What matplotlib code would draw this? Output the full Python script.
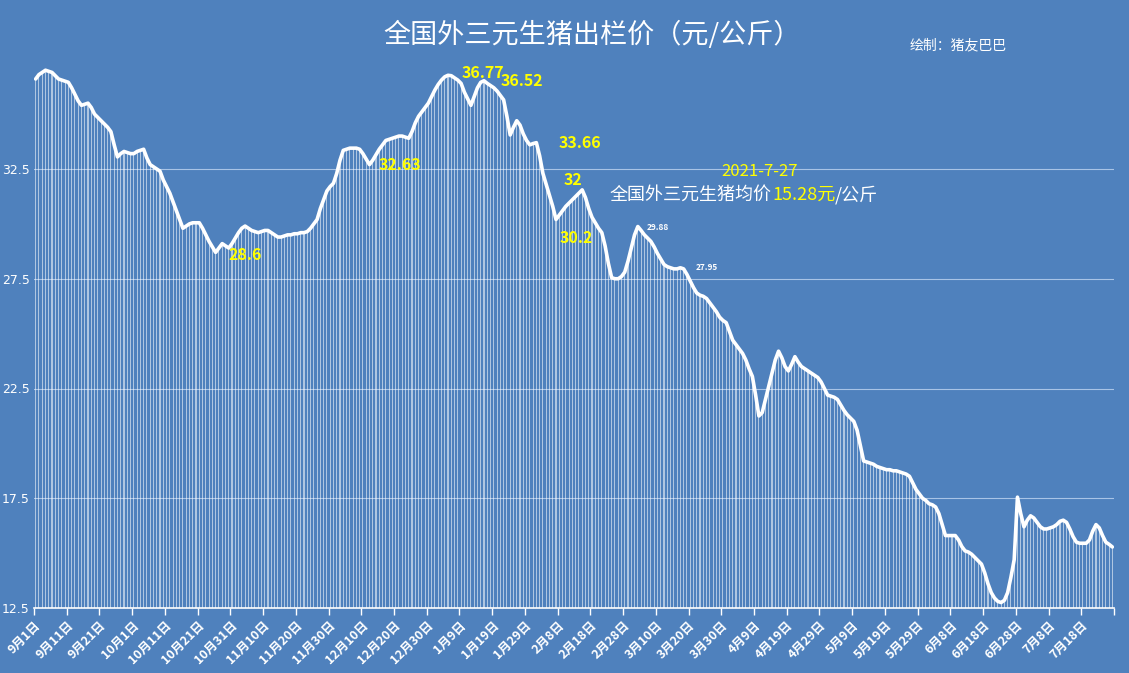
import matplotlib
matplotlib.use("Agg")
import matplotlib.pyplot as plt
import numpy as np

plt.rcParams['font.family'] = ['Noto Sans CJK SC', 'DejaVu Sans']

prices = [
36.6,36.8,36.9,37.0,36.95,36.9,36.75,36.6,36.55,36.5,
36.45,36.2,35.9,35.6,35.4,35.45,35.5,35.3,35.0,34.85,
34.7,34.55,34.4,34.2,33.6,33.05,33.2,33.3,33.25,33.2,
33.2,33.3,33.35,33.4,33.0,32.7,32.6,32.5,32.4,32.0,
31.7,31.4,31.0,30.6,30.2,29.8,29.9,30.0,30.05,30.05,
30.05,29.8,29.5,29.2,28.95,28.7,28.9,29.1,29.0,28.9,
29.1,29.35,29.6,29.8,29.9,29.8,29.7,29.65,29.6,29.65,
29.7,29.7,29.6,29.5,29.4,29.4,29.45,29.5,29.5,29.55,
29.55,29.6,29.6,29.65,29.8,30.0,30.2,30.7,31.1,31.5,
31.7,31.85,32.3,32.9,33.35,33.4,33.45,33.45,33.45,33.4,
33.2,32.95,32.7,32.9,33.15,33.4,33.6,33.8,33.85,33.9,
33.95,34.0,34.0,33.95,33.9,34.2,34.6,34.9,35.1,35.3,
35.5,35.8,36.1,36.35,36.55,36.7,36.77,36.75,36.65,36.55,
36.4,36.0,35.7,35.4,35.8,36.2,36.45,36.52,36.4,36.3,
36.2,36.05,35.85,35.65,34.9,34.05,34.4,34.7,34.5,34.1,
33.8,33.6,33.66,33.7,33.1,32.3,31.8,31.3,30.8,30.2,
30.4,30.6,30.8,30.95,31.1,31.25,31.4,31.55,31.2,30.7,
30.3,30.05,29.8,29.6,29.0,28.2,27.55,27.5,27.5,27.6,
27.8,28.3,28.9,29.5,29.88,29.7,29.5,29.35,29.2,28.95,
28.65,28.4,28.15,28.05,28.0,27.95,27.95,28.0,27.95,27.7,
27.4,27.1,26.85,26.75,26.7,26.6,26.4,26.2,26.0,25.75,
25.6,25.5,25.1,24.7,24.5,24.3,24.1,23.8,23.4,23.05,
22.2,21.25,21.4,22.0,22.6,23.2,23.8,24.2,23.9,23.5,
23.3,23.6,23.95,23.7,23.5,23.4,23.3,23.2,23.1,23.0,
22.8,22.5,22.2,22.15,22.1,22.0,21.75,21.5,21.3,21.15,
21.0,20.6,19.9,19.2,19.15,19.1,19.05,18.95,18.9,18.85,
18.8,18.8,18.75,18.75,18.7,18.65,18.6,18.5,18.2,17.9,
17.7,17.5,17.4,17.25,17.2,17.1,16.8,16.3,15.8,15.8,
15.8,15.8,15.6,15.3,15.1,15.05,14.95,14.8,14.65,14.5,
14.1,13.6,13.2,12.95,12.8,12.75,12.85,13.2,13.9,14.7,
17.55,16.8,16.2,16.5,16.7,16.6,16.4,16.2,16.1,16.1,
16.15,16.2,16.3,16.45,16.5,16.4,16.1,15.75,15.5,15.45,
15.45,15.45,15.6,16.0,16.3,16.15,15.8,15.5,15.4,15.28,
]

tick_labels = ["9月1日","9月11日","9月21日","10月1日","10月11日","10月21日","10月31日",
"11月10日","11月20日","11月30日","12月10日","12月20日","12月30日","1月9日","1月19日",
"1月29日","2月8日","2月18日","2月28日","3月10日","3月20日","3月30日","4月9日","4月19日",
"4月29日","5月9日","5月19日","5月29日","6月8日","6月18日","6月28日","7月8日","7月18日"]

yticks = [12.5, 17.5, 22.5, 27.5, 32.5]

BG = '#4f81bd'
W, H = 1129, 673
fig = plt.figure(figsize=(W/100, H/100), dpi=100, facecolor=BG)
ax = fig.add_axes([34/W, 1-608/H, (1114-34)/W, 608/H])
ax.set_facecolor(BG)

x = np.arange(len(prices))
ylo = 12.5
ax.bar(x, np.array(prices) - ylo, bottom=ylo, width=0.35, color='white', alpha=0.55, linewidth=0, zorder=2)
ax.plot(x, prices, color='white', lw=2.6, zorder=3, solid_capstyle='round')

ax.set_xlim(-0.5, len(prices) - 0.5)
ax.set_ylim(12.5, 12.5 + 608/21.95)
ax.set_yticks(yticks)
ax.set_yticklabels([str(v) for v in yticks], color='white', fontsize=9, family=['DejaVu Sans'])
ax.tick_params(axis='y', length=0, pad=3)
for v in yticks[1:]:
    ax.axhline(v, color='#a9c4e6', lw=0.8, zorder=1)

ticks = np.arange(0, len(prices) + 1, 10) - 0.5
ax.set_xticks(ticks)
ax.set_xticklabels(tick_labels + [""] * (len(ticks) - len(tick_labels)), rotation=45,
                   ha='right', rotation_mode='anchor', color='white', fontsize=9, fontweight='bold')
ax.tick_params(axis='x', colors='white', length=5, width=1, direction='out', pad=3)
for s in ['top', 'right', 'left']:
    ax.spines[s].set_visible(False)
ax.spines['bottom'].set_color('white')
ax.spines['bottom'].set_linewidth(1.2)

def ft(px, py, s, **kw):
    return fig.text(px/W, 1-py/H, s, **kw)

Y = '#ffff00'
ft(592, 35, "全国外三元生猪出栏价（元/公斤）", color='white', fontsize=19.5, ha='center', va='center')
ft(958, 45, "绘制：猪友巴巴", color='white', fontsize=10, ha='center', va='center')
for (px, py, s) in [(245, 255, "28.6"), (400, 165, "32.63"), (483, 73, "36.77"), (522, 81, "36.52"),
                    (580, 143, "33.66"), (573, 180, "32"), (576, 238, "30.2")]:
    ft(px, py, s, color=Y, fontsize=11.5, fontweight='bold', ha='center', va='center')
ft(658, 227, "29.88", color='white', fontsize=6, fontweight='bold', ha='center', va='center')
ft(707, 268, "27.95", color='white', fontsize=6, fontweight='bold', ha='center', va='center')
ft(760, 171, "2021-7-27", color=Y, fontsize=12, ha='center', va='center')

fig.canvas.draw()
r = fig.canvas.get_renderer()
px = 610
for s, c in [("全国外三元生猪均价", 'white'), ("15.28元", Y), ("/公斤", 'white')]:
    t = ft(px, 195, s, color=c, fontsize=13, ha='left', va='center')
    px += t.get_window_extent(r).width

fig.savefig("out.png", dpi=100, facecolor=BG)
